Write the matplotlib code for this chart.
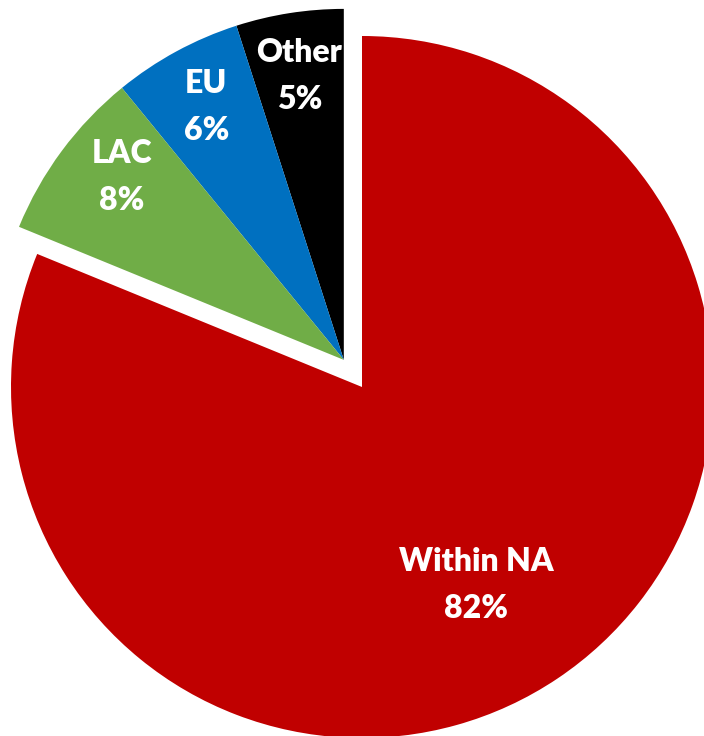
import numpy as np
import matplotlib
matplotlib.use("Agg")
import matplotlib.pyplot as plt

# share of trips by destination (%), counter-clockwise from 12 o'clock
regions = ["Other", "EU", "LAC", "Within NA"]
shares = [5, 6, 8, 82]
colors = ["#000000", "#0070C0", "#70AD47", "#C00000"]

# the three small regions are pulled out together, away from the big slice
pulled = ["Other", "EU", "LAC"]
pull_dist = 0.093

fig = plt.figure(figsize=(7.04, 7.36), dpi=100)
ax = fig.add_axes([0, 0, 1, 1])

wedges, _ = ax.pie(shares, colors=colors, startangle=90, counterclock=True,
                   radius=1.0, center=(0, 0),
                   wedgeprops=dict(linewidth=0, antialiased=True))

# common offset direction = middle of the pulled group
group = [w for w, r in zip(wedges, regions) if r in pulled]
th_start = min(w.theta1 for w in group)
th_end = max(w.theta2 for w in group)
mid = np.deg2rad((th_start + th_end) / 2)
off = np.array([np.cos(mid), np.sin(mid)]) * pull_dist

for w, name, val in zip(wedges, regions, shares):
    c = np.array([0.0, 0.0])
    dist = 0.65
    if name in pulled:
        c = c + off
        w.set_center(tuple(c))
        dist = 0.82
    a = np.deg2rad((w.theta1 + w.theta2) / 2)
    if name == "Within NA":
        a = np.deg2rad(-60)
    elif name == "LAC":
        a -= np.deg2rad(3)
    x = c[0] + dist * np.cos(a)
    y = c[1] + dist * np.sin(a)
    ax.text(x, y, f"{name}\n{val}%", ha="center", va="center",
            color="white", fontsize=23, fontweight="heavy", family="Lato",
            linespacing=1.75)

# place the pie inside the canvas (radius 1 = 351 px)
r_px = 351.0
cx, cy = 362.0, 387.0
ax.set_xlim(-cx / r_px, (704 - cx) / r_px)
ax.set_ylim(-(736 - cy) / r_px, cy / r_px)
ax.set_aspect("equal")
ax.axis("off")

fig.savefig("out.png", dpi=100)
